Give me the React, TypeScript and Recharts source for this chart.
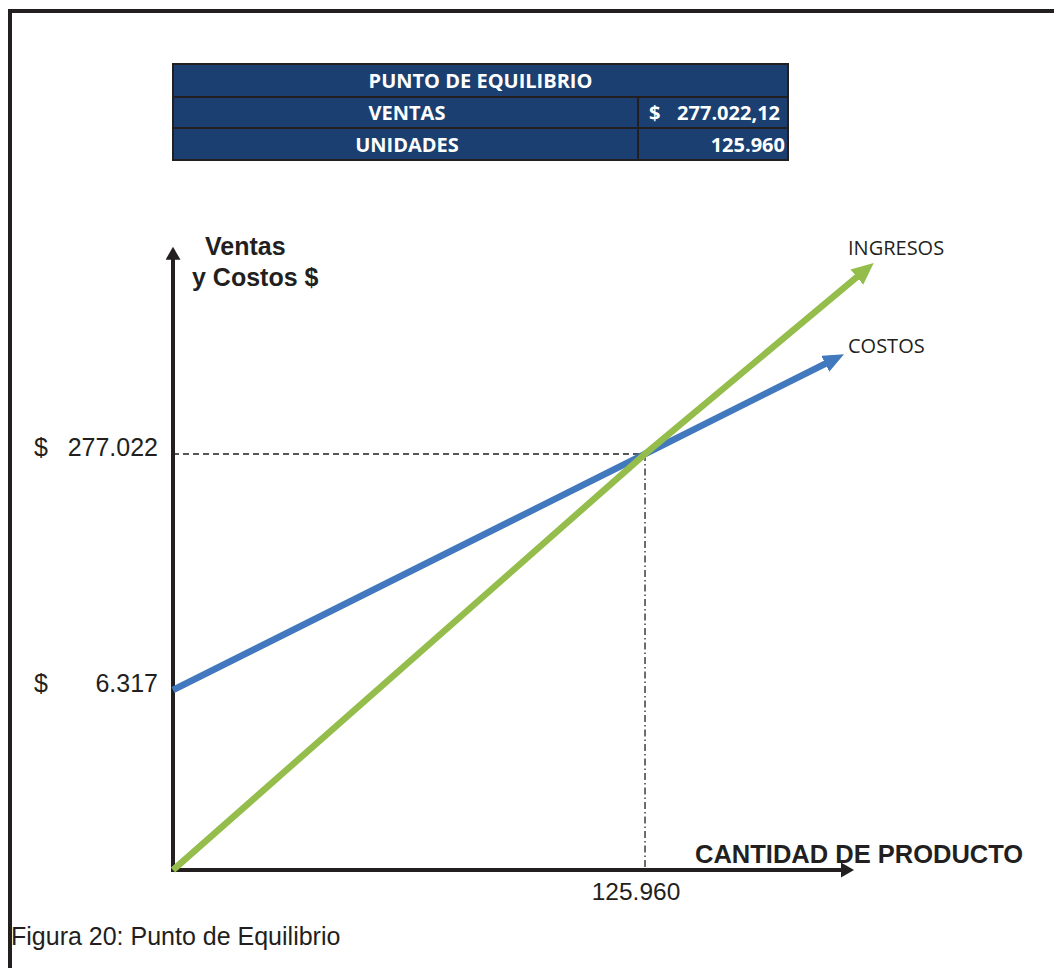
import { LineChart, Line, XAxis, YAxis, ReferenceLine } from 'recharts';

// puntos (cantidad, $)
const costoCantidad = [0, 125960, 175000];
const costoValor = [6317, 277022, 381600];
const ingresoCantidad = [0, 125960, 183300];
const ingresoValor = [0, 277022, 481000];

const equilibrioCantidad = 125960;
const equilibrioVentas = 277022;

const ventasTicks = [6317, 277022];
const cantidadTicks = [125960];

const tablaTitulo = 'PUNTO DE EQUILIBRIO';
const tablaEtiquetas = ['VENTAS', 'UNIDADES'];
const tablaValores = ['277.022,12', '125.960'];

const INK = '#231f20';
const AZUL = '#4178be';
const VERDE = '#94bd4b';
const TABLA_BG = '#1a3f70';
const SANS = '"Liberation Sans", Arial, sans-serif';
const CALIBRI = '"Open Sans", sans-serif';

// extremos de los ejes (en unidades de datos)
const X_MAX = 190000;
const Y_MAX = 510000;
const X_FLECHA = 178800;
const Y_FLECHA = 500000;

// el dibujo original no esta a escala: escala por tramos
const Y_KNOTS = [0, 6317, 277022, Y_MAX];
const Y_STOPS = [0, 180 / 621, 416 / 621, 1];

function tramos(knots: number[], stops: number[]) {
  let dom = [knots[0], knots[knots.length - 1]];
  let rng = [0, 1];
  const frac = (v: number) => {
    let i = 1;
    while (i < knots.length - 1 && v > knots[i]) i++;
    const t = (v - knots[i - 1]) / (knots[i] - knots[i - 1]);
    return stops[i - 1] + t * (stops[i] - stops[i - 1]);
  };
  const scale: any = (v: number) => rng[0] + frac(v) * (rng[1] - rng[0]);
  scale.domain = (d?: number[]) => {
    if (d === undefined) return dom.slice();
    dom = d.slice();
    return scale;
  };
  scale.range = (r?: number[]) => {
    if (r === undefined) return rng.slice();
    rng = r.slice();
    return scale;
  };
  scale.copy = () => tramos(knots, stops).domain(dom).range(rng);
  scale.ticks = () => knots.slice();
  scale.invert = (p: number) => {
    const f = (p - rng[0]) / (rng[1] - rng[0]);
    let i = 1;
    while (i < stops.length - 1 && f > stops[i]) i++;
    const t = (f - stops[i - 1]) / (stops[i] - stops[i - 1]);
    return knots[i - 1] + t * (knots[i] - knots[i - 1]);
  };
  return scale;
}

const miles = (v: number) => String(v).replace(/\B(?=(\d{3})+(?!\d))/g, '.');

const costos = costoCantidad.map((q, i) => ({ q, v: costoValor[i] }));
const ingresos = ingresoCantidad.map((q, i) => ({ q, v: ingresoValor[i] }));

function TickVentas(props: any) {
  const { y, payload } = props;
  return (
    <g>
      <text x={34} y={y + 2} fontSize={25} fill={INK} fontFamily={SANS}>
        $
      </text>
      <text x={158} y={y + 2} fontSize={25} fill={INK} fontFamily={SANS} textAnchor="end">
        {miles(payload.value)}
      </text>
    </g>
  );
}

function TickCantidad(props: any) {
  const { x, payload } = props;
  return (
    <text x={x - 9} y={900} fontSize={24.5} fill={INK} fontFamily={SANS} textAnchor="middle">
      {miles(payload.value)}
    </text>
  );
}

const celda = {
  position: 'absolute' as const,
  color: '#fff',
  fontFamily: CALIBRI,
  fontWeight: 700,
  fontSize: 20,
  display: 'flex',
  alignItems: 'center',
};

export default function App() {
  return (
    <div style={{ position: 'absolute', left: 0, top: 0, width: 1054, height: 968, overflow: 'hidden', background: '#fff' }}>
      <div
        style={{
          position: 'absolute',
          left: 8,
          top: 9,
          width: 1200,
          height: 1100,
          borderLeft: `4px solid ${INK}`,
          borderTop: `4px solid ${INK}`,
        }}
      />
      <div style={{ position: 'absolute', left: 0, top: 0 }}>
        <LineChart width={1054} height={968} margin={{ top: 249, right: 169, bottom: 0, left: 0 }}>
          <defs>
            <marker id="flechaNegra" markerUnits="userSpaceOnUse" markerWidth={14} markerHeight={16} refX={2} refY={7.5} orient="auto">
              <path d="M0,0 L13,7.5 L0,15 z" fill={INK} />
            </marker>
            <marker id="flechaAzul" markerUnits="userSpaceOnUse" markerWidth={22} markerHeight={20} refX={4} refY={9} orient="auto">
              <path d="M0,0 L21,9 L0,18 z" fill={AZUL} />
            </marker>
            <marker id="flechaVerde" markerUnits="userSpaceOnUse" markerWidth={24} markerHeight={22} refX={4} refY={10} orient="auto">
              <path d="M0,0 L22,10 L0,20 z" fill={VERDE} />
            </marker>
          </defs>
          <XAxis
            type="number"
            dataKey="q"
            domain={[0, X_MAX]}
            ticks={cantidadTicks}
            interval={0}
            axisLine={false}
            tickLine={false}
            height={98}
            tick={<TickCantidad />}
          />
          <YAxis
            type="number"
            dataKey="v"
            domain={[0, Y_MAX]}
            scale={tramos(Y_KNOTS, Y_STOPS)}
            ticks={ventasTicks}
            interval={0}
            axisLine={false}
            tickLine={false}
            width={173}
            tick={<TickVentas />}
          />
          <ReferenceLine
            segment={[{ x: 0, y: equilibrioVentas }, { x: equilibrioCantidad, y: equilibrioVentas }]}
            stroke={INK}
            strokeWidth={1.3}
            strokeDasharray="6 4"
            ifOverflow="visible"
          />
          <ReferenceLine
            segment={[{ x: equilibrioCantidad, y: equilibrioVentas }, { x: equilibrioCantidad, y: 0 }]}
            stroke={INK}
            strokeWidth={1.3}
            strokeDasharray="7 3 1.5 3"
            ifOverflow="visible"
          />
          <ReferenceLine
            segment={[{ x: 0, y: 0 }, { x: X_FLECHA, y: 0 }]}
            stroke={INK}
            strokeWidth={4}
            strokeLinecap="square"
            markerEnd="url(#flechaNegra)"
            ifOverflow="visible"
          />
          <ReferenceLine
            segment={[{ x: 0, y: 0 }, { x: 0, y: Y_FLECHA }]}
            stroke={INK}
            strokeWidth={4}
            strokeLinecap="square"
            markerEnd="url(#flechaNegra)"
            ifOverflow="visible"
          />
          <Line
            data={costos}
            dataKey="v"
            type="linear"
            stroke={AZUL}
            strokeWidth={6.5}
            dot={false}
            activeDot={false}
            markerEnd="url(#flechaAzul)"
            isAnimationActive={false}
          />
          <Line
            data={ingresos}
            dataKey="v"
            type="linear"
            stroke={VERDE}
            strokeWidth={6.5}
            dot={false}
            activeDot={false}
            markerEnd="url(#flechaVerde)"
            isAnimationActive={false}
          />
          <text x={205} y={255} fontSize={25} fontWeight={700} fill={INK} fontFamily={SANS}>
            Ventas
          </text>
          <text x={192} y={286} fontSize={25} fontWeight={700} fill={INK} fontFamily={SANS}>
            y Costos $
          </text>
          <text x={695} y={863} fontSize={25.5} fontWeight={700} fill={INK} fontFamily={SANS}>
            CANTIDAD DE PRODUCTO
          </text>
          <text x={848} y={255} fontSize={20} fill={INK} fontFamily={CALIBRI}>
            INGRESOS
          </text>
          <text x={848} y={353} fontSize={20} fill={INK} fontFamily={CALIBRI}>
            COSTOS
          </text>
          <text x={11} y={945} fontSize={25} fill={INK} fontFamily={SANS}>
            Figura 20: Punto de Equilibrio
          </text>
        </LineChart>
      </div>
      <div
        style={{
          position: 'absolute',
          left: 172,
          top: 63,
          width: 617,
          height: 98,
          boxSizing: 'border-box',
          background: TABLA_BG,
          border: `2px solid ${INK}`,
        }}
      >
        <div style={{ ...celda, left: 0, top: 0, width: 613, height: 31, justifyContent: 'center' }}>{tablaTitulo}</div>
        <div style={{ position: 'absolute', left: 0, top: 31, width: 613, height: 2, background: INK }} />
        <div style={{ position: 'absolute', left: 0, top: 62, width: 613, height: 2, background: INK }} />
        <div style={{ position: 'absolute', left: 463, top: 31, width: 2, height: 63, background: INK }} />
        {tablaEtiquetas.map((t, i) => (
          <div key={t} style={{ ...celda, left: 0, top: 33 + i * 31, width: 466, height: i === 0 ? 29 : 31, justifyContent: 'center' }}>
            {t}
          </div>
        ))}
        <div style={{ ...celda, left: 475, top: 33, height: 29 }}>$</div>
        {tablaValores.map((v, i) => (
          <div key={v} style={{ ...celda, left: 465, top: 33 + i * 31, width: 148, height: i === 0 ? 29 : 31, justifyContent: 'flex-end', paddingRight: i === 0 ? 7 : 2, boxSizing: 'border-box' }}>
            {v}
          </div>
        ))}
      </div>
    </div>
  );
}
